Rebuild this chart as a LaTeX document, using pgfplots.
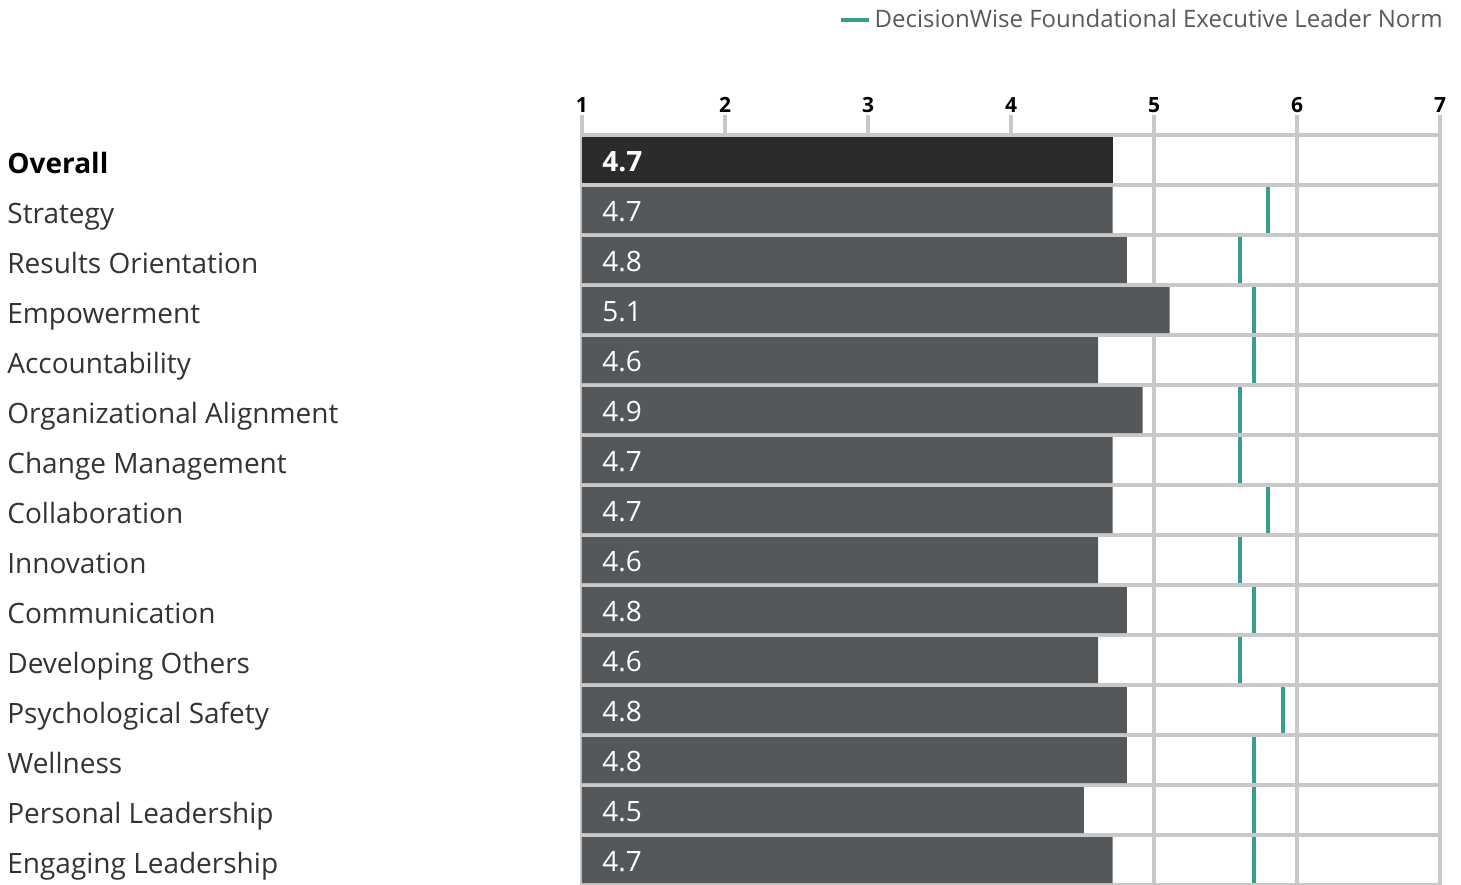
\documentclass[border=0pt]{standalone}
\usepackage{pgfplots}
\usepackage{pgfplotstable}
\pgfplotsset{compat=1.18}
\usepackage{fontspec}
\setmainfont{Open Sans}
\definecolor{gridc}{HTML}{C8C8C8}
\definecolor{barc}{HTML}{54585B}
\definecolor{barov}{HTML}{2B2B2B}
\definecolor{normc}{HTML}{3A9D8F}
\definecolor{labc}{HTML}{333333}
\definecolor{legc}{HTML}{555A5E}

\pgfplotstableread{
y val lab one
1.5 4.71 4.7 1
2.5 4.81 4.8 1
3.5 5.11 5.1 1
4.5 4.61 4.6 1
5.5 4.92 4.9 1
6.5 4.71 4.7 1
7.5 4.71 4.7 1
8.5 4.61 4.6 1
9.5 4.81 4.8 1
10.5 4.61 4.6 1
11.5 4.81 4.8 1
12.5 4.81 4.8 1
13.5 4.51 4.5 1
14.5 4.71 4.7 1
}\bars

\pgfplotstableread{
y norm
1.5 5.8
2.5 5.6
3.5 5.7
4.5 5.7
5.5 5.6
6.5 5.6
7.5 5.8
8.5 5.6
9.5 5.7
10.5 5.6
11.5 5.9
12.5 5.7
13.5 5.7
14.5 5.7
}\norms

\begin{document}
\begin{tikzpicture}
\begin{axis}[
  name=ax,
  scale only axis, width=429pt, height=375pt,
  xmin=1, xmax=7, ymin=0, ymax=15, y dir=reverse,
  axis line style={draw=none},
  xtick={1,...,7}, xtick pos=upper, xticklabel pos=upper,
  tick align=outside, major tick length=10pt,
  x tick style={draw=gridc, line width=2pt},
  xticklabel style={font=\fontsize{10.5}{12}\selectfont\bfseries, inner sep=0pt, yshift=1pt, text=black},
  /pgf/number format/assume math mode=true,
  xmajorgrids, major grid style={draw=gridc, line width=2pt},
  ytick={0.5,1.5,...,14.5},
  yticklabels={\textbf{\color{black}Overall}, Strategy, Results Orientation, Empowerment, Accountability, Organizational Alignment, Change Management, Collaboration, Innovation, Communication, Developing Others, Psychological Safety, Wellness, Personal Leadership, Engaging Leadership},
  y tick style={draw=none},
  yticklabel style={anchor=base west, xshift=-277.5pt, yshift=-6.5pt, inner sep=0pt, font=\fontsize{14}{16}\selectfont, text=labc},
  minor ytick={0,1,...,15}, yminorgrids, minor grid style={draw=gridc, line width=2pt}, minor tick length=0pt,
  legend style={at={(rel axis cs:1,1)}, anchor=east, xshift=3.5pt, yshift=57.5pt, draw=none, fill=none, inner sep=0pt,
    font=\fontsize{12}{14}\selectfont, text=legc, legend cell align=left},
  legend image code/.code={\draw[#1] (0pt,0pt) -- (14pt,0pt);},
]
\addlegendimage{normc, line width=2pt}
\addlegendentry{DecisionWise Foundational Executive Leader Norm}

\addplot[xbar, bar width=0.92, bar shift=0pt, fill=barov, draw=none, forget plot] coordinates {(4.71,0.5)};
\addplot[xbar, bar width=0.92, bar shift=0pt, fill=barc, draw=none, forget plot] table[x=val, y=y] {\bars};

\addplot[draw=none, mark=none, forget plot, error bars/.cd, y dir=both, y fixed=0.46,
  error mark=none, error bar style={normc, line width=2pt}] table[x=norm, y=y] {\norms};

\addplot[draw=none, mark=none, forget plot, nodes near coords, point meta=explicit symbolic,
  nodes near coords style={anchor=west, inner sep=0pt, xshift=10pt, yshift=-1pt, text=white, font=\fontsize{14}{16}\selectfont\bfseries}]
  coordinates {(1,0.5) [4.7]};
\addplot[draw=none, mark=none, forget plot, nodes near coords, point meta=explicit symbolic,
  nodes near coords style={anchor=west, inner sep=0pt, xshift=10pt, yshift=-1pt, text=white, font=\fontsize{14}{16}\selectfont}]
  table[x=one, y=y, meta=lab] {\bars};
\end{axis}
\pgfresetboundingbox
\path[use as bounding box] ([xshift=-291pt,yshift=0.5pt]ax.south west) rectangle ([xshift=10.5pt,yshift=67.5pt]ax.north east);
\end{tikzpicture}
\end{document}
